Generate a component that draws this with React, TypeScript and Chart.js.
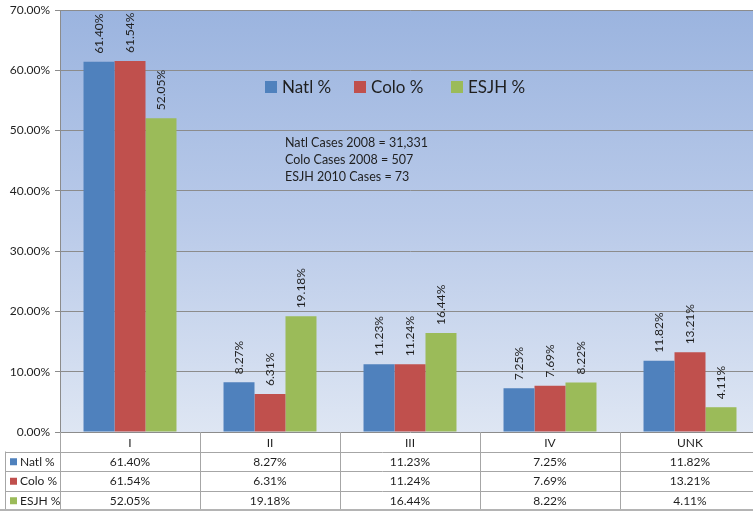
import React, { useEffect, useRef } from "react";
import { Chart, registerables } from "chart.js";

Chart.register(...registerables);

// Stage categories and the share of cases per stage (percent)
const categories = ["I", "II", "III", "IV", "UNK"];
const natlPct = [61.4, 8.27, 11.23, 7.25, 11.82];
const coloPct = [61.54, 6.31, 11.24, 7.69, 13.21];
const esjhPct = [52.05, 19.18, 16.44, 8.22, 4.11];

const seriesNames = ["Natl %", "Colo %", "ESJH %"];
const seriesColors = ["#4F81BD", "#C0504D", "#9BBB59"];

const caseNotes = [
  "Natl Cases 2008 = 31,331",
  "Colo Cases 2008 = 507",
  "ESJH 2010 Cases = 73",
];

const yMax = 70;
const yStep = 10;

const FONT = "Lato, 'Open Sans', sans-serif";
const GRID = "#8c8c8c";
const TABLE_LINE = "#a6a6a6";
const TEXT = "#1f1f1f";

const fmt = (v: number) => v.toFixed(2) + "%";

// Gradient fill behind the plot area
const plotBackground = {
  id: "plotBackground",
  beforeDraw(chart: any) {
    const { ctx, chartArea: a } = chart;
    const g = ctx.createLinearGradient(0, a.top, 0, a.bottom);
    g.addColorStop(0, "#9BB4DF");
    g.addColorStop(0.5, "#B9CAE9");
    g.addColorStop(1, "#DEE6F3");
    ctx.save();
    ctx.fillStyle = g;
    ctx.fillRect(a.left, a.top, a.right - a.left, a.bottom - a.top);
    ctx.restore();
  },
};

// Rotated value labels above each bar
const barValueLabels = {
  id: "barValueLabels",
  afterDatasetsDraw(chart: any) {
    const { ctx } = chart;
    ctx.save();
    ctx.font = `12px ${FONT}`;
    ctx.fillStyle = TEXT;
    ctx.textAlign = "left";
    ctx.textBaseline = "middle";
    chart.data.datasets.forEach((ds: any, di: number) => {
      const meta = chart.getDatasetMeta(di);
      meta.data.forEach((bar: any, i: number) => {
        ctx.save();
        ctx.translate(bar.x, bar.y - 8);
        ctx.rotate(-Math.PI / 2);
        ctx.fillText(fmt(ds.data[i]), 0, 0);
        ctx.restore();
      });
    });
    ctx.restore();
  },
};

// Legend and case-count notes drawn inside the plot
const insideNotes = {
  id: "insideNotes",
  afterDraw(chart: any) {
    const { ctx } = chart;
    ctx.save();
    const legendX = [265, 354, 451];
    const legendY = 87;
    ctx.font = `17px ${FONT}`;
    ctx.textBaseline = "middle";
    ctx.textAlign = "left";
    chart.data.datasets.forEach((ds: any, i: number) => {
      const x = legendX[i];
      ctx.fillStyle = ds.backgroundColor;
      ctx.fillRect(x, legendY - 6, 12, 12);
      ctx.fillStyle = TEXT;
      ctx.fillText(ds.label, x + 17, legendY + 1);
    });
    ctx.font = `12.5px ${FONT}`;
    caseNotes.forEach((t, i) => {
      ctx.fillText(t, 285, 143 + i * 17);
    });
    ctx.restore();
  },
};

// Data table below the axis
const dataTable = {
  id: "dataTable",
  afterDraw(chart: any) {
    const { ctx, chartArea: a } = chart;
    const xs = chart.scales.x;
    const colW = xs.getPixelForValue(1) - xs.getPixelForValue(0);
    const top = a.bottom;
    const rowH = 19.5;
    const nRows = 4;
    const bottom = top + rowH * nRows;
    const rightEdge = xs.getPixelForValue(categories.length - 1) + colW / 2;
    const tableLeft = 5;

    ctx.save();
    ctx.strokeStyle = TABLE_LINE;
    ctx.lineWidth = 1;
    ctx.beginPath();
    for (let k = 1; k <= nRows; k++) {
      const y = Math.round(top + rowH * k) + 0.5;
      ctx.moveTo(tableLeft, y);
      ctx.lineTo(rightEdge, y);
    }
    ctx.moveTo(tableLeft + 0.5, top + rowH);
    ctx.lineTo(tableLeft + 0.5, bottom);
    for (let c = 0; c <= categories.length; c++) {
      const x = Math.round(a.left + c * colW) + 0.5;
      ctx.moveTo(x, top);
      ctx.lineTo(x, bottom);
    }
    ctx.stroke();

    ctx.fillStyle = TEXT;
    ctx.textBaseline = "middle";
    ctx.textAlign = "center";
    ctx.font = `12px ${FONT}`;
    categories.forEach((c, i) => {
      ctx.fillText(c, xs.getPixelForValue(i), top + rowH / 2 + 1);
    });

    chart.data.datasets.forEach((ds: any, r: number) => {
      const cy = top + rowH * (r + 1) + rowH / 2 + 0.5;
      ctx.fillStyle = ds.backgroundColor;
      ctx.fillRect(10, cy - 3.5, 7, 7);
      ctx.fillStyle = TEXT;
      ctx.textAlign = "left";
      ctx.fillText(ds.label, 20, cy);
      ctx.textAlign = "center";
      ds.data.forEach((v: number, i: number) => {
        ctx.fillText(fmt(v), xs.getPixelForValue(i), cy);
      });
    });

    // outer frame edge at the foot of the chart
    ctx.fillStyle = "#b4b4b4";
    ctx.fillRect(0, 509, chart.width, 2);
    ctx.restore();
  },
};

export default function App() {
  const canvasRef = useRef<HTMLCanvasElement | null>(null);

  useEffect(() => {
    if (!canvasRef.current) return;
    const seriesValues = [natlPct, coloPct, esjhPct];
    const chart = new Chart(canvasRef.current, {
      type: "bar",
      data: {
        labels: categories,
        datasets: seriesNames.map((name, i) => ({
          label: name,
          data: seriesValues[i],
          backgroundColor: seriesColors[i],
          borderWidth: 0,
          barPercentage: 1,
          categoryPercentage: 0.664,
        })),
      },
      options: {
        responsive: false,
        animation: false,
        layout: { padding: { top: 10, bottom: 79, left: 0, right: 7 } },
        plugins: {
          legend: { display: false },
          tooltip: { enabled: false },
        },
        scales: {
          x: { display: false },
          y: {
            min: 0,
            max: yMax,
            afterFit(scale: any) {
              scale.width = 60;
              scale.paddingTop = 0;
              scale.paddingBottom = 0;
            },
            ticks: {
              stepSize: yStep,
              padding: 5,
              color: TEXT,
              font: { family: FONT, size: 12, lineHeight: 1 },
              callback: (v: any) => fmt(Number(v)),
            },
            grid: { color: GRID, tickLength: 5, lineWidth: 1 },
            border: { color: GRID },
          },
        },
      },
      plugins: [plotBackground, barValueLabels, insideNotes, dataTable],
    });
    return () => chart.destroy();
  }, []);

  return (
    <div
      style={{
        position: "fixed",
        left: 0,
        top: 0,
        width: 753,
        height: 511,
        overflow: "hidden",
        background: "#ffffff",
      }}
    >
      <canvas ref={canvasRef} width={767} height={511} style={{ display: "block" }} />
    </div>
  );
}
